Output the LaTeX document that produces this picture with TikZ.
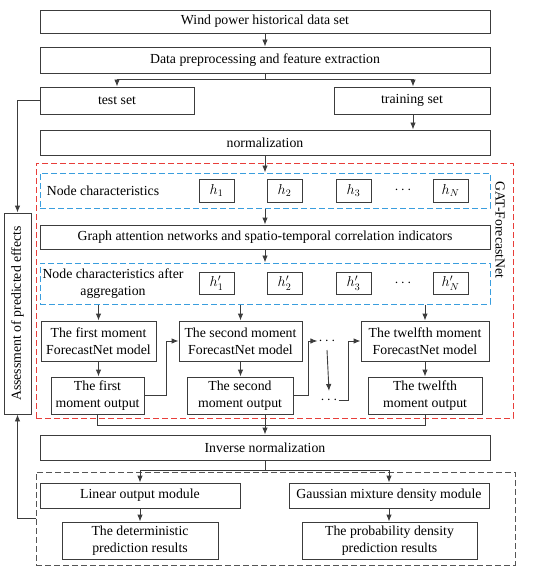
\documentclass[tikz,border=0pt]{standalone}
\usepackage{fontspec}
\setmainfont{Liberation Serif}
\usetikzlibrary{arrows.meta}
\definecolor{gatred}{RGB}{232,62,58}
\definecolor{featblue}{RGB}{58,158,222}
\definecolor{outgray}{RGB}{85,85,85}
\definecolor{boxgray}{RGB}{60,60,60}

\begin{document}
\begin{tikzpicture}[x=1pt, y=-1pt,
    font=\fontsize{13.8}{17}\selectfont,
    box/.style={draw=boxgray, line width=0.9pt, inner sep=0pt, align=center},
    hbox/.style={box, minimum width=35pt, minimum height=23pt},
    region/.style={line width=1pt, dash pattern=on 6pt off 3pt, inner sep=0pt},
    arr/.style={boxgray, line width=0.9pt, -{Latex[length=7pt,width=5.5pt]}},
    line/.style={boxgray, line width=0.9pt}]
        \useasboundingbox (0,0) rectangle (550,575);

        % dashed regions
        \node[region, draw=gatred, minimum width=477pt, minimum height=255pt] (gatbox) at (274.5,290.5) {};
        \node[region, draw=featblue, minimum width=450pt, minimum height=35pt] (feat) at (265,190.5) {};
        \node[region, draw=featblue, minimum width=450pt, minimum height=41pt] (agg) at (265,283.5) {};
        \node[region, draw=outgray, minimum width=479pt, minimum height=93pt] (outbox) at (275.5,518.5) {};
        \node[rotate=-90] (gatlabel) at (500,230) {GAT-ForecastNet};

        % data flow
        \node[box, minimum width=450pt, minimum height=23pt] (wind) at (265,21.5) {Wind power historical data set};
        \node[box, minimum width=450pt, minimum height=26pt] (prep) at (265,60) {Data preprocessing and feature extraction};
        \node[box, minimum width=154pt, minimum height=27pt] (test) at (117,100.5) {test set};
        \node[box, minimum width=156pt, minimum height=27pt] (train) at (412,100.5) {training set};
        \node[box, minimum width=450pt, minimum height=25pt] (norm) at (265,142.5) {normalization};
        \node[box, minimum width=27pt, minimum height=201pt] (assess) at (17.5,313.5) {};
        \node[rotate=90] (assesslabel) at (assess) {Assessment of predicted effects};

        % node features
        \node (nodechar) at (103,191) {Node characteristics};
        \node[hbox] (h1) at (216.5,190.5) {$h_1$};
        \node[hbox] (h2) at (284.5,190.5) {$h_2$};
        \node[hbox] (h3) at (353.5,190.5) {$h_3$};
        \node (hdots) at (403,190.5) {$\cdots$};
        \node[hbox] (hN) at (450.5,190.5) {$h_N$};

        \node[box, minimum width=450pt, minimum height=24pt] (gat) at (265,237) {Graph attention networks and spatio-temporal correlation indicators};

        \node[align=center] (aggchar) at (113,283.5) {Node characteristics after\\aggregation};
        \node[hbox, minimum height=22pt] (ha1) at (216.5,283) {$h'_1$};
        \node[hbox, minimum height=22pt] (ha2) at (284.5,283) {$h'_2$};
        \node[hbox, minimum height=22pt] (ha3) at (353.5,283) {$h'_3$};
        \node (hadots) at (403,283) {$\cdots$};
        \node[hbox, minimum height=22pt] (haN) at (450.5,283) {$h'_N$};

        % ForecastNet models
        \node[box, minimum width=115pt, minimum height=40pt] (model1) at (98.5,341) {The first moment\\ForecastNet model};
        \node[box, minimum width=123pt, minimum height=40pt] (model2) at (240.5,341) {The second moment\\ForecastNet model};
        \node[box, minimum width=128pt, minimum height=40pt] (model12) at (425,341) {The twelfth moment\\ForecastNet model};
        \node[box, minimum width=93pt, minimum height=37pt] (out1) at (97.5,395.5) {The first\\moment output};
        \node[box, minimum width=106pt, minimum height=37pt] (out2) at (240,395.5) {The second\\moment output};
        \node[box, minimum width=114pt, minimum height=37pt] (out12) at (425,395.5) {The twelfth\\moment output};
        \node[inner sep=1pt] (dotsA) at (327,341) {$\cdots$};
        \node[inner sep=1pt] (dotsB) at (329,400) {$\cdots$};

        % outputs
        \node[box, minimum width=450pt, minimum height=25pt] (inv) at (265,447.5) {Inverse normalization};
        \node[box, minimum width=200pt, minimum height=25pt] (lin) at (140,495.5) {Linear output module};
        \node[box, minimum width=200pt, minimum height=25pt] (gauss) at (389,495.5) {Gaussian mixture density module};
        \node[box, minimum width=156pt, minimum height=37pt] (det) at (140,540.5) {The deterministic\\prediction results};
        \node[box, minimum width=175pt, minimum height=37pt] (prob) at (389.5,540.5) {The probability density\\prediction results};

        % connectors
        \draw[arr] (wind) -- (prep);
        \draw[arr] (prep.south) -- ++(0,6) -| (test.north);
        \draw[arr] (prep.south) -- ++(0,6) -| ([xshift=1pt]train.north);
        \draw[arr] ([xshift=1pt]train.south) -- ([xshift=1pt]train.south |- norm.north);
        \draw[arr] (test.west) -| (assess.north);
        \draw[arr] (norm) -- (feat);
        \draw[arr] (feat) -- (gat);
        \draw[arr] (gat) -- (agg);
        \foreach \m in {model1,model2,model12} {
            \draw[arr] (\m.north |- agg.south) -- (\m.north);
        }
        \draw[arr] (model1) -- (model1 |- out1.north);
        \draw[arr] (model2) -- (model2 |- out2.north);
        \draw[arr] (model12) -- (model12 |- out12.north);
        \draw[arr] (out1.east) -- ++(22,0) |- (model2.west);
        \draw[arr] (out2.east) -- ++(15,0) |- (dotsA.west);
        \draw[arr] ([yshift=-9pt]dotsA.center) -- ([yshift=9pt]dotsB.center);
        \draw[arr] (dotsB.east) -- ++(10,0) |- (model12.west);
        \draw[line] (out1.south) -- ++(0,11) -| (out12.south);
        \draw[arr] (inv.north |- out2.south) -- (inv.north);
        \draw[arr] (inv.south) -- ++(0,10) -| (lin.north);
        \draw[arr] (inv.south) -- ++(0,10) -| (gauss.north);
        \draw[arr] (lin) -- (det);
        \draw[arr] (gauss) -- (gauss |- prob.north);
        \draw[arr] (outbox.west) -| (assess.south);
    \end{tikzpicture}
\end{document}
